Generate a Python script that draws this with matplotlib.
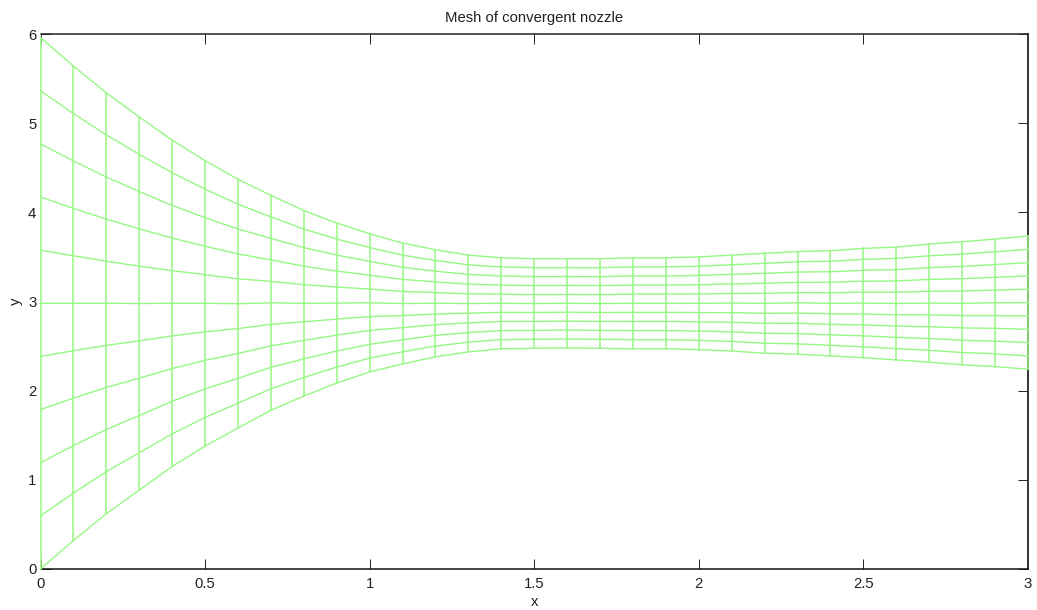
import numpy as np
import matplotlib
matplotlib.use("Agg")
import matplotlib.pyplot as plt

plt.rcParams['font.family'] = ['Liberation Sans', 'DejaVu Sans']

# mesh outline, one value per column
x_cols = [0.0, 0.1, 0.2, 0.3, 0.4, 0.5, 0.6, 0.7, 0.8, 0.9, 1.0,
          1.1, 1.2, 1.3, 1.4, 1.5, 1.6, 1.7, 1.8, 1.9, 2.0,
          2.1, 2.2, 2.3, 2.4, 2.5, 2.6, 2.7, 2.8, 2.9, 3.0]
y_top = [5.96, 5.64, 5.34, 5.07, 4.81, 4.58, 4.37, 4.19, 4.02, 3.88, 3.76,
         3.655, 3.58, 3.52, 3.49, 3.48, 3.48, 3.48, 3.49, 3.49, 3.50,
         3.52, 3.54, 3.56, 3.57, 3.595, 3.61, 3.645, 3.67, 3.70, 3.735]
y_bottom = [0.0, 0.32, 0.62, 0.885, 1.15, 1.38, 1.58, 1.78, 1.94, 2.085, 2.21,
            2.30, 2.38, 2.435, 2.47, 2.475, 2.48, 2.475, 2.47, 2.47, 2.46,
            2.445, 2.42, 2.41, 2.39, 2.37, 2.345, 2.32, 2.29, 2.27, 2.24]
# share of the column height for each of the mesh rows
row_frac = [0.0, 0.1, 0.2, 0.3, 0.4, 0.5, 0.6, 0.7, 0.8, 0.9, 1.0]

x_ticks = [0, 0.5, 1, 1.5, 2, 2.5, 3]
x_labels = ['0', '0.5', '1', '1.5', '2', '2.5', '3']
y_ticks = [0, 1, 2, 3, 4, 5, 6]

W, H = 1037, 610
GREEN = '#96f884'

fig = plt.figure(figsize=(W / 100, H / 100), dpi=100)
ax = fig.add_axes([40.5 / W, 1 - 569 / H, (1028 - 40.5) / W, (569 - 34) / H])

x = np.array(x_cols)
top = np.array(y_top)
bot = np.array(y_bottom)

# rows
for f in row_frac:
    ax.plot(x, bot + f * (top - bot), color=GREEN, lw=1.0, zorder=5, clip_on=False)
# columns
for i in range(len(x)):
    ax.plot([x[i], x[i]], [bot[i], top[i]], color=GREEN, lw=1.1, zorder=5, clip_on=False)

ax.set_xlim(0, 3)
ax.set_ylim(0, 6)
ax.set_xticks(x_ticks)
ax.set_xticklabels(x_labels)
ax.set_yticks(y_ticks)
ax.tick_params(direction='in', top=True, right=True, length=7.5, width=0.7,
               color='#222222', labelsize=10.7, labelcolor='#222222')
ax.tick_params(axis='x', pad=5.5)
ax.tick_params(axis='y', pad=3)

# the left ticks only show at the two corners in the original
for t, val in zip(ax.yaxis.get_major_ticks(), y_ticks):
    if val not in (0, 6):
        t.tick1line.set_visible(False)

ax.spines['left'].set_visible(False)
ax.spines['top'].set_linewidth(1.1)
ax.spines['top'].set_color('#222222')
ax.spines['bottom'].set_linewidth(1.1)
ax.spines['bottom'].set_color('#111111')
ax.spines['right'].set_linewidth(1.4)
ax.spines['right'].set_color('#333333')

ax.set_title('Mesh of convergent nozzle', fontsize=10.7, color='#222222', pad=8.5)
ax.set_xlabel('x', fontsize=10.7, color='#222222', labelpad=3.5)
ax.set_ylabel('y', fontsize=10.7, color='#222222', labelpad=3.5)

fig.savefig('out.png', dpi=100)
